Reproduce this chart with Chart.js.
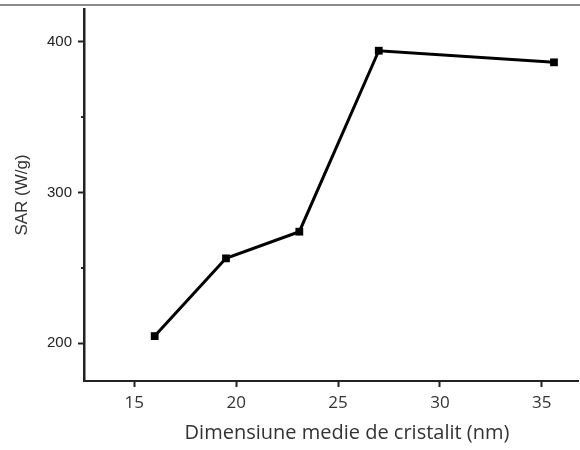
<!DOCTYPE html>
<html>
<head>
<meta charset="utf-8">
<script src="https://cdn.jsdelivr.net/npm/chart.js@4/dist/chart.umd.min.js"></script>
<style>
  body { margin: 0; background: #fff; }
  #wrap { width: 580px; height: 450px; }
</style>
</head>
<body>
<div id="wrap"><canvas id="chart" width="580" height="450"></canvas></div>
<script>
// Datos
const dimensiune = [16.0, 19.5, 23.1, 27.0, 35.6];
const sar = [204.8, 256.4, 274.1, 394.2, 386.5];
const xTicks = [15, 20, 25, 30, 35];
const yTicks = [200, 300, 400];
const yMinorTicks = [250, 350];
const xTitle = 'Dimensiune medie de cristalit (nm)';
const yTitle = 'SAR (W/g)';

// Linea gris superior, ticks menores del eje Y y titulo del eje X
const extras = {
    id: 'extras',
    beforeDraw(chart) {
        const ctx = chart.ctx;
        ctx.save();
        ctx.fillStyle = '#8a8a8a';
        ctx.fillRect(0, 4, chart.width, 2);
        ctx.restore();
    },
    afterDraw(chart) {
        const ctx = chart.ctx;
        const y = chart.scales.y;
        ctx.save();
        ctx.strokeStyle = '#222';
        ctx.lineWidth = 2;
        yMinorTicks.forEach(v => {
            const py = Math.round(y.getPixelForValue(v));
            ctx.beginPath();
            ctx.moveTo(y.right - 3, py);
            ctx.lineTo(y.right, py);
            ctx.stroke();
        });
        // el titulo X esta desplazado a la derecha en el original
        ctx.fillStyle = '#333';
        ctx.font = '20px "Open Sans"';
        ctx.textAlign = 'center';
        ctx.textBaseline = 'alphabetic';
        ctx.fillText(xTitle, 347, 439);
        ctx.restore();
    }
};

new Chart(document.getElementById('chart'), {
    type: 'line',
    data: {
        datasets: [{
            data: dimensiune.map((x, i) => ({ x: x, y: sar[i] })),
            borderColor: '#000',
            borderWidth: 3,
            backgroundColor: '#000',
            pointStyle: 'rect',
            pointRadius: 5.5,
            pointBackgroundColor: '#000',
            pointBorderColor: '#000',
            pointBorderWidth: 0,
            tension: 0,
            fill: false
        }]
    },
    options: {
        responsive: false,
        devicePixelRatio: 1,
        animation: false,
        layout: { autoPadding: false, padding: { top: 9, right: 2, left: 0, bottom: 0 } },
        plugins: { legend: { display: false }, tooltip: { enabled: false } },
        scales: {
            x: {
                type: 'linear',
                min: 12.53,
                max: 36.78,
                afterBuildTicks: (scale) => { scale.ticks = xTicks.map(v => ({ value: v })); },
                afterFit: (scale) => {
                    scale.height = 69;
                    scale.paddingLeft = 0;
                    scale.paddingRight = 0;
                },
                border: { display: true, color: '#222', width: 2 },
                grid: { drawOnChartArea: false, drawTicks: true, tickLength: 6, tickWidth: 2, color: '#222' },
                ticks: { color: '#333', padding: 6, font: { family: 'Open Sans', size: 17 } }
            },
            y: {
                min: 175,
                max: 421.9,
                afterBuildTicks: (scale) => { scale.ticks = yTicks.map(v => ({ value: v })); },
                afterFit: (scale) => {
                    scale.width = 84;
                    scale.paddingTop = 0;
                    scale.paddingBottom = 0;
                },
                border: { display: true, color: '#222', width: 2.5 },
                grid: { drawOnChartArea: false, drawTicks: true, tickLength: 6, tickWidth: 2, color: '#222' },
                ticks: { color: '#222', padding: 6, font: { family: 'Liberation Sans', size: 15 } },
                title: {
                    display: true,
                    text: yTitle,
                    color: '#333',
                    font: { family: 'Liberation Sans', size: 17 },
                    padding: { top: 12, bottom: 0 }
                }
            }
        }
    },
    plugins: [extras]
});
</script>
</body>
</html>
